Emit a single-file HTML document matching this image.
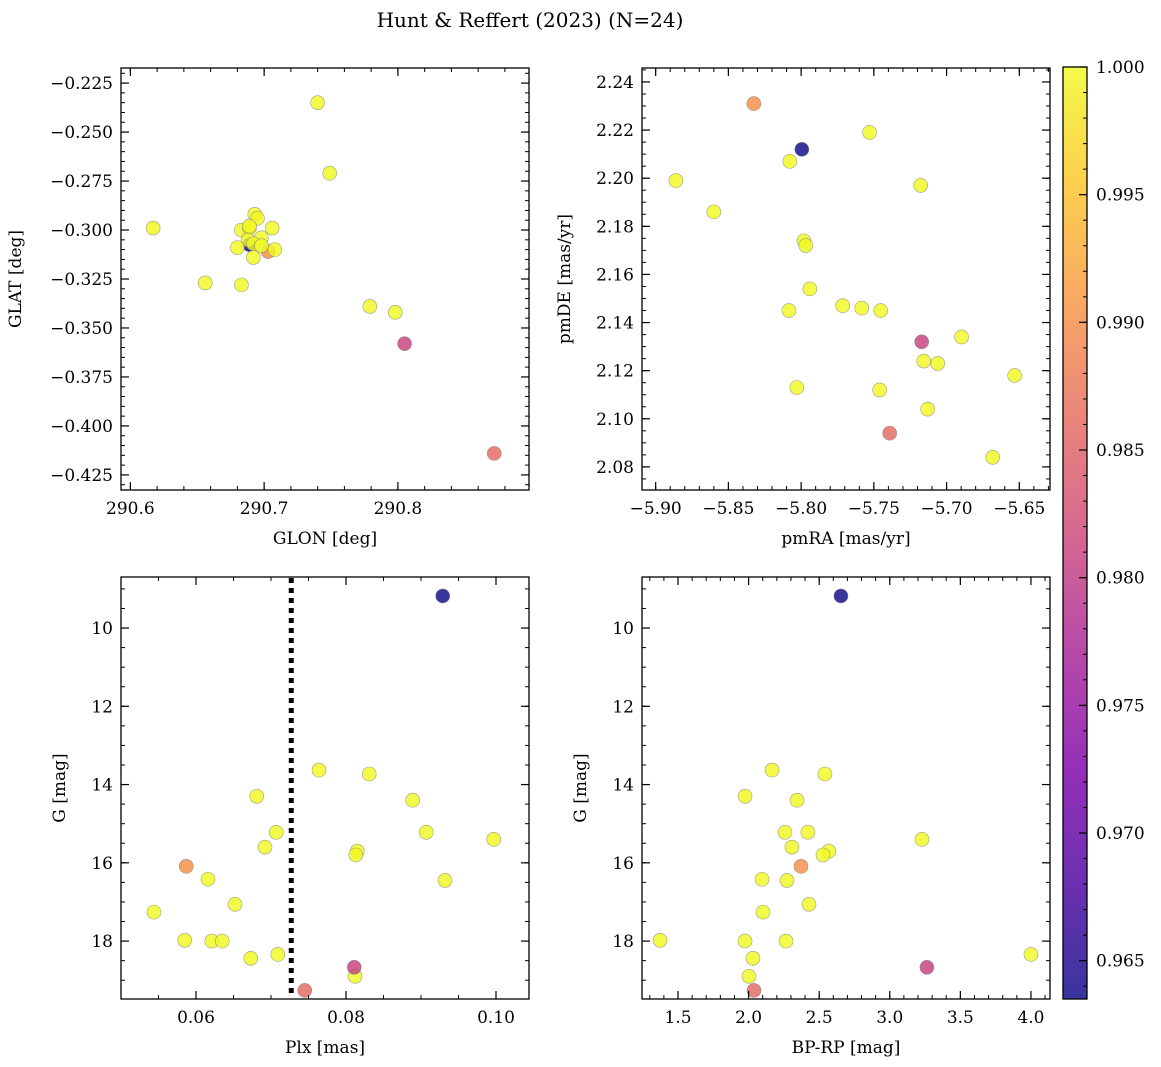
<!DOCTYPE html>
<html><head><meta charset="utf-8">
<style>
body{margin:0;background:#fff;}
svg{display:block;font-family:"DejaVu Serif","Liberation Serif",serif;}
</style></head>
<body>
<svg id="fig" width="1161" height="1067" viewBox="0 0 1161 1067" xmlns="http://www.w3.org/2000/svg">
<defs>
<linearGradient id="plasma" x1="0" y1="1" x2="0" y2="0">
<stop offset="0" stop-color="#0d0887"/><stop offset="0.125" stop-color="#4c02a1"/>
<stop offset="0.25" stop-color="#7e03a8"/><stop offset="0.375" stop-color="#a82296"/>
<stop offset="0.5" stop-color="#cc4778"/><stop offset="0.625" stop-color="#e56b5d"/>
<stop offset="0.75" stop-color="#f89540"/><stop offset="0.875" stop-color="#fdc527"/>
<stop offset="1" stop-color="#f0f921"/>
</linearGradient>
</defs>
<text x="530" y="27" font-size="20" text-anchor="middle">Hunt &amp; Reffert (2023) (N=24)</text>
</svg>
<script>
// data
const glon = [290.740,290.749,290.617,290.656,290.683,290.779,290.798,290.805,290.872,290.693,290.695,290.706,290.683,290.689,290.698,290.688,290.692,290.680,290.698,290.708,290.692,290.703,290.689,290.689];
const glat = [-0.235,-0.271,-0.299,-0.327,-0.328,-0.339,-0.342,-0.358,-0.414,-0.292,-0.294,-0.299,-0.300,-0.299,-0.304,-0.305,-0.307,-0.309,-0.308,-0.310,-0.314,-0.311,-0.3075,-0.298];
const prob1 = [1,1,1,1,1,1,1,0.9810,0.9860,1,1,1,1,1,1,1,1,1,1,1,1,0.9900,0.9635,1];
const pmra = [-5.8325,-5.7995,-5.7529,-5.8861,-5.8078,-5.8600,-5.7178,-5.7981,-5.7968,-5.7940,-5.7714,-5.7583,-5.7453,-5.8084,-5.7171,-5.6897,-5.7157,-5.7061,-5.6532,-5.8030,-5.7460,-5.7130,-5.7391,-5.6683];
const pmde = [2.2310,2.2120,2.2190,2.1990,2.2070,2.1860,2.1970,2.1740,2.1720,2.1540,2.1470,2.1460,2.1450,2.1450,2.1320,2.1340,2.1240,2.1230,2.1180,2.1130,2.1120,2.1040,2.0940,2.0840];
const prob2 = [0.9900,0.9635,1,1,1,1,1,1,1,1,1,1,1,1,0.9810,1,1,1,1,1,1,1,0.9860,1];
const plx  = [0.0587,0.0929,0.0764,0.0831,0.0681,0.0889,0.0707,0.0907,0.0997,0.0692,0.0815,0.0813,0.0616,0.0932,0.0652,0.0544,0.0585,0.0621,0.0635,0.0673,0.0709,0.0812,0.0811,0.0745];
const gmag = [16.09,9.18,13.63,13.73,14.30,14.40,15.22,15.22,15.40,15.60,15.70,15.80,16.42,16.45,17.06,17.26,17.98,18.00,18.00,18.44,18.34,18.90,18.67,19.26];
const bprp = [2.371,2.654,2.166,2.541,1.975,2.343,2.258,2.420,3.228,2.307,2.569,2.527,2.095,2.272,2.428,2.102,1.373,1.975,2.265,2.031,4.000,2.003,3.263,2.038];
const prob = [0.9900,0.9635,1,1,1,1,1,1,1,1,1,1,1,1,1,1,1,1,1,1,1,1,0.9810,0.9860];
const cbTicks = [0.965,0.970,0.975,0.980,0.985,0.990,0.995,1.000];
const plxCut = [0.0727];

const NS="http://www.w3.org/2000/svg";
const svg=document.getElementById('fig');
function mk(tag,attrs,parent){const e=document.createElementNS(NS,tag);for(const k in attrs)e.setAttribute(k,attrs[k]);(parent||svg).appendChild(e);return e;}
const stops=[[13,8,135],[76,2,161],[126,3,168],[168,34,150],[204,71,120],[229,107,93],[248,149,64],[253,197,39],[240,249,33]];
const CMIN=0.9635,CMAX=1.0;
function cmap(v){let t=(v-CMIN)/(CMAX-CMIN);t=Math.max(0,Math.min(1,t))*8;const i=Math.min(7,Math.floor(t)),f=t-i;const a=stops[i],b=stops[i+1];return 'rgb('+a.map((c,j)=>Math.round(c+(b[j]-c)*f)).join(',')+')';}

function panel(name,box,xr,yr,xmaj,xmin,ymaj,ymin,xfmt,yfmt,xlabel,ylabel,xs,ys,cs,invertY,lowFirst){
  const [L,T,R,B]=box;
  const g=mk('g',{});  
  const sx=v=>L+(v-xr[0])/(xr[1]-xr[0])*(R-L);
  const sy=invertY? v=>T+(v-yr[0])/(yr[1]-yr[0])*(B-T) : v=>B-(v-yr[0])/(yr[1]-yr[0])*(B-T);
  const marks=mk('g',{},g);  
  const order=xs.map((_,i)=>i).sort((a,b)=>lowFirst?cs[a]-cs[b]:cs[b]-cs[a]);
  order.forEach(i=>{const c=mk('circle',{cx:sx(xs[i]),cy:sy(ys[i]),r:7,fill:cmap(cs[i]),'fill-opacity':0.82,stroke:'#777','stroke-width':0.6,'stroke-opacity':0.7},marks);
     });
  const ax=mk('g',{},g);  
  function ticks(lo,hi,step){const out=[];const s=Math.ceil(lo/step-1e-9);for(let k=s;k*step<=hi+1e-9;k++)out.push(k*step);return out;}
  ticks(xr[0],xr[1],xmin).forEach(v=>{const x=sx(v);mk('line',{x1:x,x2:x,y1:B,y2:B-4,stroke:'#000','stroke-width':1},ax);mk('line',{x1:x,x2:x,y1:T,y2:T+4,stroke:'#000','stroke-width':1},ax);});
  ticks(yr[0],yr[1],ymin).forEach(v=>{const y=sy(v);mk('line',{x1:L,x2:L+4,y1:y,y2:y,stroke:'#000','stroke-width':1},ax);mk('line',{x1:R,x2:R-4,y1:y,y2:y,stroke:'#000','stroke-width':1},ax);});
  ticks(xr[0],xr[1],xmaj).forEach(v=>{const x=sx(v);mk('line',{x1:x,x2:x,y1:B,y2:B-8,stroke:'#000','stroke-width':1.2},ax);mk('line',{x1:x,x2:x,y1:T,y2:T+8,stroke:'#000','stroke-width':1.2},ax);
    const t=mk('text',{x:x,y:B+24,'font-size':17,'text-anchor':'middle'},ax);t.textContent=xfmt(v);});
  ticks(yr[0],yr[1],ymaj).forEach(v=>{const y=sy(v);mk('line',{x1:L,x2:L+8,y1:y,y2:y,stroke:'#000','stroke-width':1.2},ax);mk('line',{x1:R,x2:R-8,y1:y,y2:y,stroke:'#000','stroke-width':1.2},ax);
    const t=mk('text',{x:L-8,y:y+6,'font-size':17,'text-anchor':'end'},ax);t.textContent=yfmt(v);});
  mk('rect',{x:L,y:T,width:R-L,height:B-T,fill:'none',stroke:'#000','stroke-width':1.3},ax);
  const xl=mk('text',{x:(L+R)/2,y:B+54,'font-size':17,'text-anchor':'middle'},ax);xl.textContent=xlabel;
  const ylx=L-(name==='glon-glat-panel'?100:(name==='pmra-pmde-panel'?72:56));
  const yl=mk('text',{x:ylx,y:(T+B)/2,'font-size':17,'text-anchor':'middle',transform:'rotate(-90 '+ylx+' '+(T+B)/2+')'},ax);yl.textContent=ylabel;
  return {sx,sy,g};
}
const f=(d)=>v=>(v<0?'\u2212':'')+Math.abs(v).toFixed(d);
panel('glon-glat-panel',[121,68,529,490],[290.593,290.898],[-0.4327,-0.2173],0.1,0.02,0.025,0.005,f(1),f(3),'GLON [deg]','GLAT [deg]',glon,glat,prob1,false,true);
panel('pmra-pmde-panel',[642,68,1050,490],[-5.9094,-5.6289],[2.0704,2.2458],0.05,0.01,0.02,0.005,f(2),f(2),'pmRA [mas/yr]','pmDE [mas/yr]',pmra,pmde,prob2,false,false);
const p3=panel('plx-g-panel',[121,577,529,999],[0.05,0.1044],[8.696,19.48],0.02,0.005,2,0.5,f(2),v=>v.toFixed(0),'Plx [mas]','G [mag]',plx,gmag,prob,true,false);
const cut=mk('line',{x1:p3.sx(plxCut[0]),x2:p3.sx(plxCut[0]),y1:578,y2:998,stroke:'#000','stroke-width':5,'stroke-dasharray':'5 5'},p3.g);


panel('bprp-g-panel',[642,577,1050,999],[1.245,4.135],[8.696,19.48],0.5,0.1,2,0.5,f(1),v=>v.toFixed(0),'BP-RP [mag]','G [mag]',bprp,gmag,prob,true,false);

const cb=mk('g',{});


const CL=1063,CR=1087,CT=67,CB=999;
mk('rect',{x:CL,y:CT,width:CR-CL,height:CB-CT,fill:'url(#plasma)','fill-opacity':0.82},cb);
mk('rect',{x:CL,y:CT,width:CR-CL,height:CB-CT,fill:'none',stroke:'#000','stroke-width':1.3},cb);
const cy=v=>CB-(v-CMIN)/(CMAX-CMIN)*(CB-CT);
for(let k=964;k<=1000;k++){const y=cy(k/1000);mk('line',{x1:CR,x2:CR-4,y1:y,y2:y,stroke:'#000','stroke-width':1},cb);}
cbTicks.forEach(v=>{const y=cy(v);mk('line',{x1:CR,x2:CR-8,y1:y,y2:y,stroke:'#000','stroke-width':1.2},cb);
  const t=mk('text',{x:CR+9,y:y+6,'font-size':17},cb);t.textContent=v.toFixed(3);
  
  });
</script>
</body></html>
